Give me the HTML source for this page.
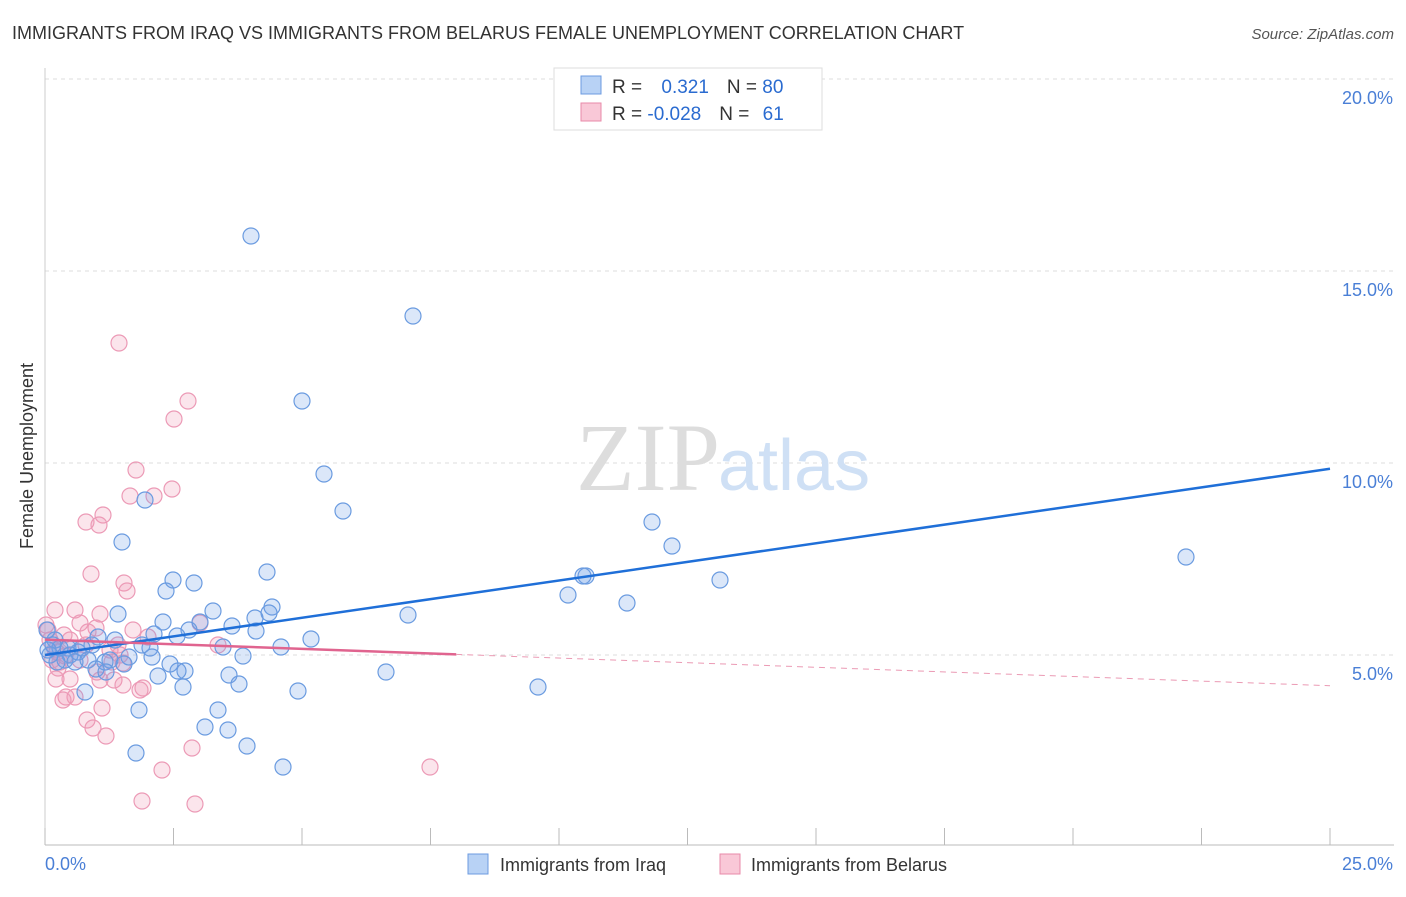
<!DOCTYPE html>
<html><head><meta charset="utf-8"><style>
body{margin:0;background:#fff;font-family:"Liberation Sans",sans-serif;}
svg text{font-family:"Liberation Sans",sans-serif;}
</style></head><body>
<svg id="chart" width="1406" height="892">
<text x="12" y="39" font-size="18" fill="#333">IMMIGRANTS FROM IRAQ VS IMMIGRANTS FROM BELARUS FEMALE UNEMPLOYMENT CORRELATION CHART</text>
<text x="1394" y="39" font-size="15" fill="#555" text-anchor="end" font-style="italic">Source: ZipAtlas.com</text>
<text x="33" y="456" font-size="18" fill="#333" text-anchor="middle" transform="rotate(-90 33 456)">Female Unemployment</text>
<g id="grid"></g>
<text x="720" y="490" font-size="96" fill="#ddd" text-anchor="end" font-family="Liberation Serif" style="font-family:'Liberation Serif',serif">ZIP</text>
<text x="718" y="490" font-size="72" fill="#cfe0f5">atlas</text>
<g id="pts"></g>
<g id="lines"></g>
<g>
<rect x="554" y="68" width="268" height="62" fill="#fff" stroke="#ddd"/>
<rect x="581" y="76" width="20" height="18" fill="#b8d2f5" stroke="#6c9be0"/>
<rect x="581" y="103" width="20" height="18" fill="#f9c8d7" stroke="#e88aa8"/>
<text x="612" y="93" font-size="19" fill="#333">R = <tspan fill="#2a6bd0" dx="14">0.321</tspan><tspan dx="18" fill="#333">N = </tspan><tspan fill="#2a6bd0">80</tspan></text>
<text x="612" y="120" font-size="19" fill="#333">R = <tspan fill="#2a6bd0">-0.028</tspan><tspan dx="18" fill="#333">N = </tspan><tspan fill="#2a6bd0" dx="8">61</tspan></text>
</g>
<g>
<rect x="468" y="854" width="20" height="20" fill="#b8d2f5" stroke="#6c9be0"/>
<text x="500" y="871" font-size="18" fill="#333">Immigrants from Iraq</text>
<rect x="720" y="854" width="20" height="20" fill="#f9c8d7" stroke="#e88aa8"/>
<text x="751" y="871" font-size="18" fill="#333">Immigrants from Belarus</text>
</g>
</svg>
<script>
const xTickLabels=["0.0%","25.0%"];
const yTicks=[5,10,15,20];
const blueX=[251,413,302,324,343,145,122,652,672,1186,720,586,583,568,627,267,173,194,166,213,272,269,408,255,163,200,232,256,311,281,223,189,177,154,118,142,150,115,98,129,243,152,110,105,124,170,185,178,158,96,106,229,386,239,183,298,538,85,139,218,205,228,247,136,283,60,70,78,55,50,65,75,88,92,57,68,82,48,53,47].map(p=>(p-45)/51.4);
const blueY=[236,316,401,474,511,500,542,522,546,557,580,576,576,595,603,572,580,583,591,611,607,613,615,618,622,622,626,631,639,647,647,630,636,634,614,645,648,640,637,657,656,657,660,662,664,664,671,671,676,669,672,675,672,684,687,691,687,692,710,710,727,730,746,753,767,648,655,652,640,655,660,662,660,645,662,648,648,650,645,630].map(p=>(847-p)/38.4);
const pinkX=[119,188,174,136,130,154,172,86,103,99,91,124,127,55,75,100,200,80,96,88,133,148,118,218,57,65,80,112,123,97,56,70,114,123,143,140,66,75,63,102,87,93,106,192,162,430,142,195,50,48,52,60,70,110,86,64,55,46,58,100,120].map(p=>(p-45)/51.4);
const pinkY=[343,401,419,470,496,496,489,522,515,525,574,583,591,610,610,614,623,623,628,632,630,637,645,645,652,656,660,662,663,672,679,679,680,685,688,690,697,697,700,708,720,728,736,748,770,767,801,804,640,630,660,662,640,650,645,635,650,625,668,680,655].map(p=>(847-p)/38.4);
const blueFit=[5.0,9.85];
const pinkFit=[5.4,4.2];
const NS="http://www.w3.org/2000/svg";
const X=v=>45+v*51.4, Y=v=>847-v*38.4;
function mk(t,a,parent){const e=document.createElementNS(NS,t);for(const k in a)e.setAttribute(k,a[k]);parent.appendChild(e);return e;}
const grid=document.getElementById('grid');
for(const t of yTicks){
 const l=mk('line',{x1:45,x2:1394,y1:Y(t),y2:Y(t),stroke:'#ddd','stroke-dasharray':'4,4'},grid);
 
 
 const tx=mk('text',{x:1393,y:Y(t)+25,'font-size':18,fill:'#4a7fd6','text-anchor':'end'},grid);
 tx.textContent=t.toFixed(1)+'%';
 
 
}
const ax=mk('line',{x1:45,x2:1394,y1:845,y2:845,stroke:'#bbb'},grid);


const ay=mk('line',{x1:45,x2:45,y1:68,y2:845,stroke:'#ccc'},grid);


for(let k=0;k<=10;k++){
 const t=mk('line',{x1:X(k*2.5),x2:X(k*2.5),y1:828,y2:845,stroke:'#bbb'},grid);
 
 
}
const xl0=mk('text',{x:45,y:870,'font-size':18,fill:'#4a7fd6'},grid);xl0.textContent=xTickLabels[0];


const xl1=mk('text',{x:1393,y:870,'font-size':18,fill:'#4a7fd6','text-anchor':'end'},grid);xl1.textContent=xTickLabels[1];


const pts=document.getElementById('pts');
pinkX.forEach((v,i)=>{const c=mk('circle',{cx:X(v),cy:Y(pinkY[i]),r:8,fill:'rgba(240,150,180,0.25)',stroke:'#ec9ab6','stroke-width':1.2},pts);
 
 });
blueX.forEach((v,i)=>{const c=mk('circle',{cx:X(v),cy:Y(blueY[i]),r:8,fill:'rgba(110,160,230,0.25)',stroke:'#6a9be0','stroke-width':1.2},pts);
 
 });
const lines=document.getElementById('lines');
const bl=mk('line',{x1:X(0),y1:Y(blueFit[0]),x2:X(25),y2:Y(blueFit[1]),stroke:'#1f6fd8','stroke-width':2.5},lines);


const pe=v=>pinkFit[0]+(pinkFit[1]-pinkFit[0])*v/25;
const ps=mk('line',{x1:X(0),y1:Y(pe(0)),x2:X(8),y2:Y(pe(8)),stroke:'#e0648f','stroke-width':2.5},lines);


const pd=mk('line',{x1:X(8),y1:Y(pe(8)),x2:X(25),y2:Y(pe(25)),stroke:'#eb9ab4','stroke-width':1,'stroke-dasharray':'6,5'},lines);


</script>
</body></html>
